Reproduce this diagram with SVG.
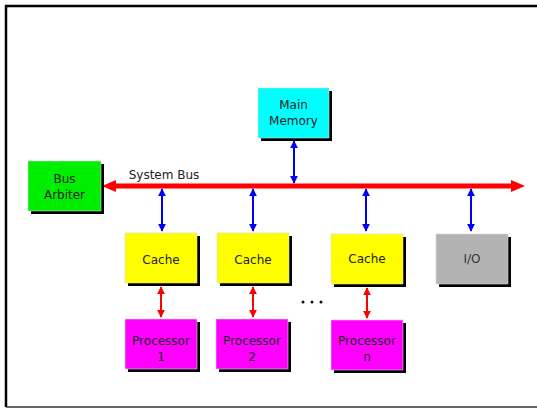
<svg xmlns="http://www.w3.org/2000/svg" width="537" height="409" viewBox="0 0 537 409">
  <style>
    .box { stroke: #d8d8d8; stroke-width: 0.6; }
    .shadow { fill: #000; }
    .lbl { font-family: "DejaVu Sans", sans-serif; font-size: 12px; fill: #222; text-anchor: middle; }
    .blue { stroke: #0000ff; stroke-width: 2; fill: none; }
    .red { stroke: #ff0000; stroke-width: 2; fill: none; }
  </style>
  <defs>
    <marker id="hb" viewBox="0 0 10 10" refX="9" refY="5" markerWidth="4" markerHeight="4" orient="auto-start-reverse" markerUnits="strokeWidth">
      <path d="M0,0 L10,5 L0,10 z" fill="#0000ff"/>
    </marker>
    <marker id="hr" viewBox="0 0 10 10" refX="9" refY="5" markerWidth="4" markerHeight="4" orient="auto-start-reverse" markerUnits="strokeWidth">
      <path d="M0,0 L10,5 L0,10 z" fill="#ff0000"/>
    </marker>
  </defs>

  <rect width="537" height="409" fill="#fff"/>
  <!-- page frame -->
  <path d="M6,407 L6,6 L537,6" fill="none" stroke="#000" stroke-width="2.5"/>
  <line x1="6" y1="407" x2="537" y2="407" stroke="#333" stroke-width="1.5"/>

  <g id="connectors">
    <!-- system bus -->
    <line x1="112" y1="186" x2="514" y2="186" stroke="#ff0000" stroke-width="5"/>
    <path d="M102,186 L116,180 L116,192 z" fill="#ff0000"/>
    <path d="M525,186 L511,180 L511,192 z" fill="#ff0000"/>
    <!-- bus taps -->
    <line class="blue" x1="294" y1="141" x2="294" y2="183" marker-start="url(#hb)" marker-end="url(#hb)"/>
    <line class="blue" x1="162" y1="189" x2="162" y2="231" marker-start="url(#hb)" marker-end="url(#hb)"/>
    <line class="blue" x1="253" y1="189" x2="253" y2="231" marker-start="url(#hb)" marker-end="url(#hb)"/>
    <line class="blue" x1="366" y1="189" x2="366" y2="231" marker-start="url(#hb)" marker-end="url(#hb)"/>
    <line class="blue" x1="471" y1="189" x2="471" y2="231" marker-start="url(#hb)" marker-end="url(#hb)"/>
    <!-- cache to processor -->
    <line class="red" x1="161" y1="287" x2="161" y2="317" marker-start="url(#hr)" marker-end="url(#hr)"/>
    <line class="red" x1="253" y1="287" x2="253" y2="317" marker-start="url(#hr)" marker-end="url(#hr)"/>
    <line class="red" x1="367" y1="288" x2="367" y2="318" marker-start="url(#hr)" marker-end="url(#hr)"/>
  </g>

  <text class="lbl" x="164" y="179">System Bus</text>

  <g id="main-memory">
    <rect class="shadow" x="261" y="91" width="71" height="50"/>
    <rect class="box" x="258" y="88" width="71" height="50" fill="#00ffff"/>
    <text class="lbl" x="293.5" y="109">Main</text>
    <text class="lbl" x="293.5" y="125">Memory</text>
  </g>

  <g id="bus-arbiter">
    <rect class="shadow" x="31" y="164" width="73" height="50"/>
    <rect class="box" x="28" y="161" width="73" height="50" fill="#00ee00"/>
    <text class="lbl" x="64.5" y="183">Bus</text>
    <text class="lbl" x="64.5" y="199">Arbiter</text>
  </g>

  <g id="cache-1">
    <rect class="shadow" x="128" y="236" width="72" height="50"/>
    <rect class="box" x="125" y="233" width="72" height="50" fill="#ffff00"/>
    <text class="lbl" x="161" y="264">Cache</text>
  </g>

  <g id="cache-2">
    <rect class="shadow" x="220" y="236" width="72" height="50"/>
    <rect class="box" x="217" y="233" width="72" height="50" fill="#ffff00"/>
    <text class="lbl" x="253" y="264">Cache</text>
  </g>

  <g id="cache-n">
    <rect class="shadow" x="334" y="237" width="72" height="50"/>
    <rect class="box" x="331" y="234" width="72" height="50" fill="#ffff00"/>
    <text class="lbl" x="367" y="263">Cache</text>
  </g>

  <g id="io">
    <rect class="shadow" x="439" y="237" width="72" height="50"/>
    <rect class="box" x="436" y="234" width="72" height="50" fill="#b3b3b3"/>
    <text class="lbl" x="472" y="263" style="fill:#333">I/O</text>
  </g>

  <g id="processor-1">
    <rect class="shadow" x="128" y="322" width="72" height="50"/>
    <rect class="box" x="125" y="319" width="72" height="50" fill="#ff00ff"/>
    <text class="lbl" x="161" y="345">Processor</text>
    <text class="lbl" x="161" y="361">1</text>
  </g>

  <g id="processor-2">
    <rect class="shadow" x="219" y="322" width="72" height="50"/>
    <rect class="box" x="216" y="319" width="72" height="50" fill="#ff00ff"/>
    <text class="lbl" x="252" y="345">Processor</text>
    <text class="lbl" x="252" y="361">2</text>
  </g>

  <g id="processor-n">
    <rect class="shadow" x="334" y="323" width="72" height="50"/>
    <rect class="box" x="331" y="320" width="72" height="50" fill="#ff00ff"/>
    <text class="lbl" x="367" y="345">Processor</text>
    <text class="lbl" x="367" y="361">n</text>
  </g>

  <g id="ellipsis">
    <circle cx="303" cy="302" r="1.5" fill="#111"/>
    <circle cx="312" cy="302" r="1.5" fill="#111"/>
    <circle cx="321" cy="302" r="1.5" fill="#111"/>
  </g>
</svg>
